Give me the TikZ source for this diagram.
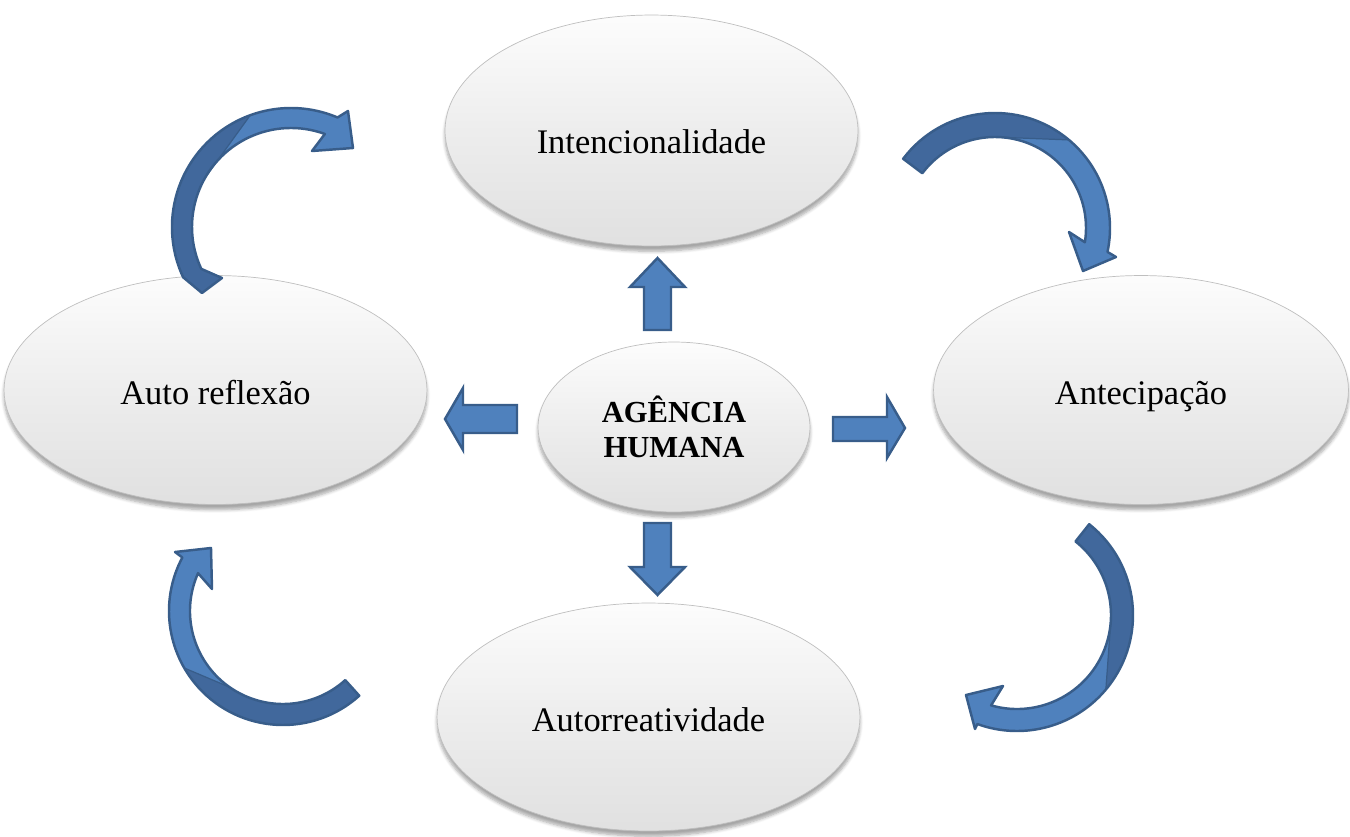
\documentclass[tikz,border=0pt]{standalone}
\usepackage{fontspec}
\setmainfont{Liberation Serif}
\usetikzlibrary{shapes.geometric,shadows.blur}
\definecolor{arLight}{HTML}{4F81BD}
\definecolor{arDark}{HTML}{41689C}
\definecolor{arLine}{HTML}{385D8A}
\tikzset{
  bub/.style={ellipse, inner sep=0pt, draw=black!25, line width=0.4pt,
    top color=black!1, bottom color=black!12, middle color=black!7,
    blur shadow={shadow xshift=0pt, shadow yshift=-3pt, shadow blur steps=6, shadow opacity=35}},
  lbl/.style={font=\fontsize{19.6}{23}\selectfont, text height=0.56cm, text depth=0pt},
  blk/.style={fill=arLight, draw=arLine, line width=1.4pt, line join=miter},
  cfill/.style={fill=arLight},
  cdark/.style={fill=arDark},
  cline/.style={draw=arLine, line width=1.4pt, line join=round},
  ctwist/.style={draw=arLine, line width=0.7pt},
}
\begin{document}
\begin{tikzpicture}[x=0.02cm, y=0.02cm]
\useasboundingbox (0,0) rectangle (1350,-836);

% ellipses
\node[bub, lbl, minimum width=8.26cm, minimum height=4.62cm, text height=0.9cm] (int) at (651.5,-130.5) {Intencionalidade};
\node[bub, lbl, minimum width=8.46cm, minimum height=4.58cm] (ref) at (215.5,-390) {Auto reflexão};
\node[bub, lbl, minimum width=8.3cm, minimum height=4.58cm] (ant) at (1141,-390) {Antecipação};
\node[bub, lbl, minimum width=8.46cm, minimum height=4.56cm] (aut) at (648.5,-717) {Autorreatividade};
\node[bub, minimum width=5.44cm, minimum height=3.4cm, align=center,
  font=\bfseries\fontsize{17.4}{19.8}\selectfont] (ag) at (674,-427) {AGÊNCIA\\HUMANA};

% straight block arrows
\draw[blk] (644,-330) -- (644,-287) -- (630,-287) -- (657.5,-258) -- (685,-287) -- (671,-287) -- (671,-330) -- cycle;
\draw[blk] (644,-523) -- (644,-567) -- (630,-567) -- (657.5,-595) -- (685,-567) -- (671,-567) -- (671,-523) -- cycle;
\draw[blk] (833,-417) -- (887,-417) -- (887,-397) -- (905,-428) -- (887,-458) -- (887,-441) -- (833,-441) -- cycle;
\draw[blk] (517,-405) -- (463,-405) -- (463,-388) -- (445,-419) -- (463,-450) -- (463,-433) -- (517,-433) -- cycle;

% curved arrow: Intencionalidade -> Antecipacao
\begin{scope}[shift={(995,-228)}]
\fill[cfill] (143:115) arc[start angle=143, end angle=-12, radius=115] -- (121,-29) -- (88,-43) -- (74,-4) -- (-9:91) arc[start angle=-9, end angle=143, radius=91] -- cycle;
\fill[cdark] (143:115) arc[start angle=143, end angle=50, radius=115] -- (85:91) arc[start angle=85, end angle=143, radius=91] -- cycle;
\draw[ctwist] (50:115) -- (85:91);
\draw[cline] (143:115) arc[start angle=143, end angle=-12, radius=115] -- (121,-29) -- (88,-43) -- (74,-4) -- (-9:91) arc[start angle=-9, end angle=143, radius=91] -- cycle;
\end{scope}

% curved arrow: Auto reflexao -> Intencionalidade
\begin{scope}[shift={(291,-227)}]
\fill[cfill] (-89,-66) -- (205:119) arc[start angle=205, end angle=67, radius=119] -- (57,116) -- (62,79) -- (21,76) -- (70:99) arc[start angle=70, end angle=205, radius=99] -- (-69,-51) -- cycle;
\fill[cdark] (-89,-66) -- (205:119) arc[start angle=205, end angle=110, radius=119] -- (150:99) arc[start angle=150, end angle=205, radius=99] -- (-69,-51) -- cycle;
\draw[ctwist] (110:119) -- (150:99);
\draw[cline] (-89,-66) -- (205:119) arc[start angle=205, end angle=67, radius=119] -- (57,116) -- (62,79) -- (21,76) -- (70:99) arc[start angle=70, end angle=205, radius=99] -- (-69,-51) -- cycle;
\end{scope}

% curved arrow: Autorreatividade -> Auto reflexao
\begin{scope}[shift={(283,-611)}]
\fill[cfill] (-48:114) arc[start angle=-48, end angle=-208, radius=114] -- (-108,59) -- (-72,63) -- (-71,22) -- (-204:93) arc[start angle=-204, end angle=-48, radius=93] -- cycle;
\fill[cdark] (-48:114) arc[start angle=-48, end angle=-150, radius=114] -- (-125:93) arc[start angle=-125, end angle=-48, radius=93] -- cycle;
\draw[ctwist] (-150:114) -- (-125:93);
\draw[cline] (-48:114) arc[start angle=-48, end angle=-208, radius=114] -- (-108,59) -- (-72,63) -- (-71,22) -- (-204:93) arc[start angle=-204, end angle=-48, radius=93] -- cycle;
\end{scope}

% curved arrow: Antecipacao -> Autorreatividade
\begin{scope}[shift={(1017,-615)}]
\fill[cfill] (51.5:116) arc[start angle=51.5, end angle=-110, radius=116] -- (-42,-114) -- (-51,-80) -- (-14,-71) -- (-106:94) arc[start angle=-106, end angle=51.5, radius=94] -- cycle;
\fill[cdark] (51.5:116) arc[start angle=51.5, end angle=-40, radius=116] -- (-5:94) arc[start angle=-5, end angle=51.5, radius=94] -- cycle;
\draw[ctwist] (-40:116) -- (-5:94);
\draw[cline] (51.5:116) arc[start angle=51.5, end angle=-110, radius=116] -- (-42,-114) -- (-51,-80) -- (-14,-71) -- (-106:94) arc[start angle=-106, end angle=51.5, radius=94] -- cycle;
\end{scope}
\end{tikzpicture}
\end{document}
